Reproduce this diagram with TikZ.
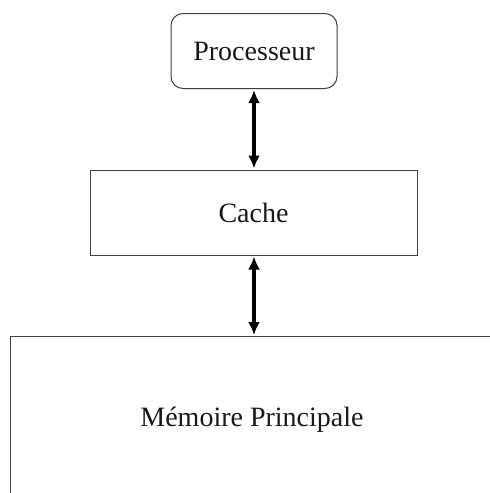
\documentclass[tikz,border=0pt]{standalone}
\usepackage{fontspec}
\setmainfont{Liberation Serif}
\usetikzlibrary{arrows.meta}
\begin{document}
\begin{tikzpicture}[x=1pt,y=-1pt,
  box/.style={draw=black!75,line width=1pt,inner sep=0pt,text=black!90,font=\fontsize{28}{30}\selectfont},
  link/.style={line width=3.5pt,{Latex[length=13pt,width=12pt]}-{Latex[length=13pt,width=12pt]},shorten <=1pt,shorten >=1pt}]
\useasboundingbox (0,0) rectangle (490,493);
\node[box,rounded corners=12pt,minimum width=166pt,minimum height=75pt] (proc) at (254,51) {Processeur};
\node[box,minimum width=327pt,minimum height=85pt] (cache) at (253.5,212.5) {Cache};
\coordinate (memtop) at (254,336);
\draw[draw=black!75,line width=1pt] (10,493) -- (10,336) -- (490,336);
\node[text=black!90,font=\fontsize{28}{30}\selectfont] (mem) at (252,420) {Mémoire Principale};
\draw[link] (proc.south -| 254,0) -- (cache.north -| 254,0);
\draw[link] (cache.south -| 254,0) -- (memtop);
\end{tikzpicture}
\end{document}
